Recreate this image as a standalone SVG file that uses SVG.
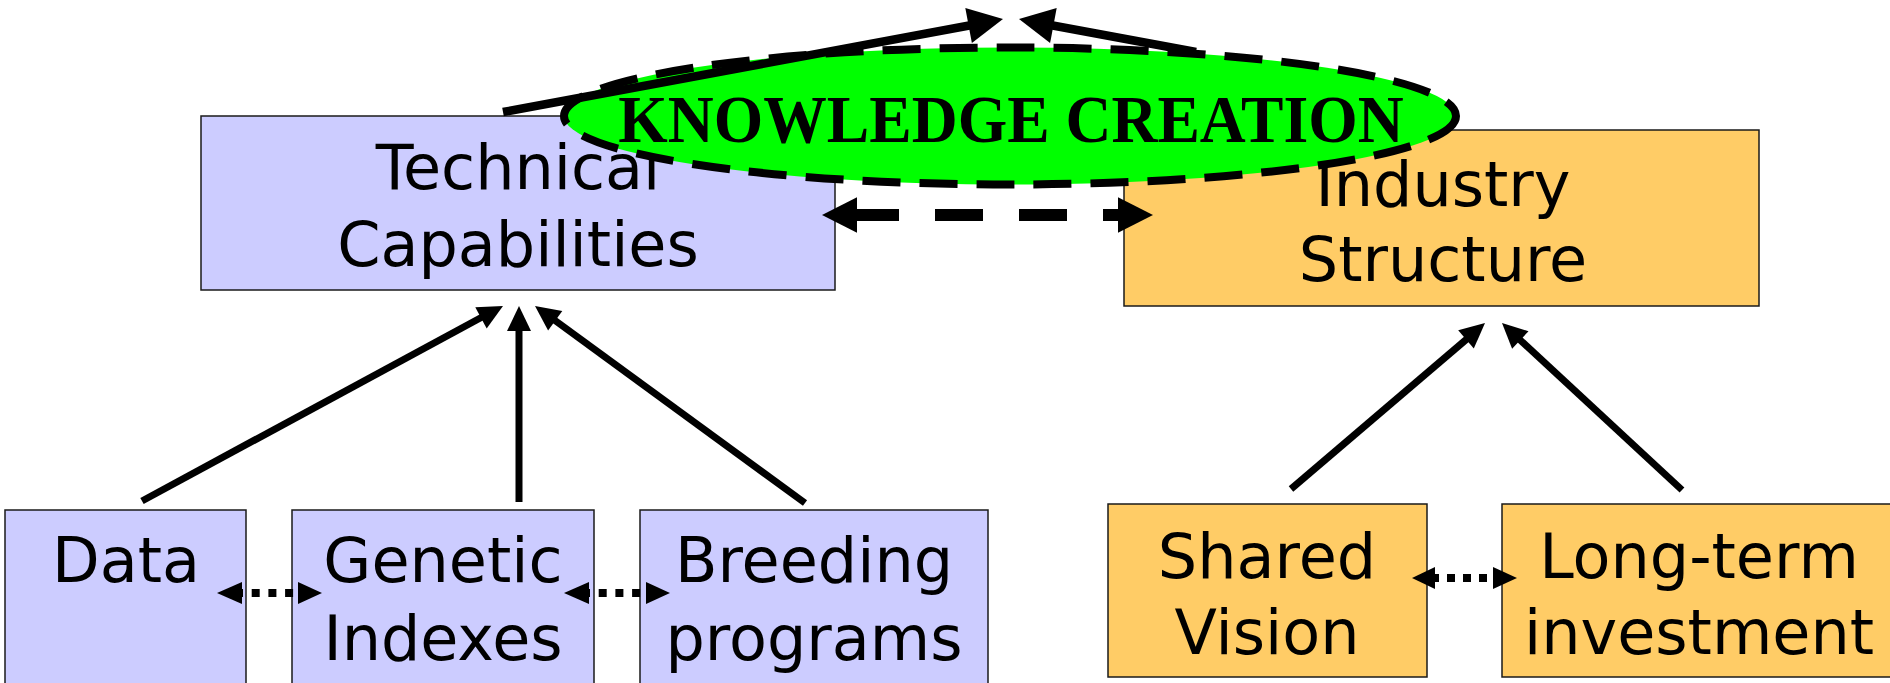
<svg xmlns="http://www.w3.org/2000/svg" width="1890" height="683" viewBox="0 0 1890 683">
<style>
.box{stroke:#1a1a1a;stroke-width:1.5}
.lav{fill:#CCCCFF}
.org{fill:#FFCC66}
.lbl{font-family:"DejaVu Sans","Open Sans",sans-serif;font-size:62px;fill:#000;text-anchor:middle}
.kc{font-family:"Liberation Serif","Times New Roman",serif;font-weight:bold;font-size:67px;fill:#000;text-anchor:middle}
.ln{stroke:#000;stroke-width:7;fill:none}
.tl{stroke:#000;stroke-width:8.5;fill:none}
.dash{stroke:#000;stroke-width:12;fill:none;stroke-dasharray:48 36}
.dot{stroke:#000;stroke-width:8;fill:none}
.hd{fill:#000}
</style>
<rect width="1890" height="683" fill="#fff"/>
<g id="technical">
<rect class="box lav" x="201" y="116" width="634" height="174"/>
<text class="lbl" x="518" y="189">Technical</text>
<text class="lbl" x="518" y="266">Capabilities</text>
</g>
<g id="industry">
<rect class="box org" x="1124" y="130" width="635" height="176"/>
<text class="lbl" x="1443" y="206">Industry</text>
<text class="lbl" x="1443" y="281">Structure</text>
</g>
<g id="data">
<rect class="box lav" x="5" y="510" width="241" height="190"/>
<text class="lbl" x="126" y="582">Data</text>
</g>
<g id="genetic">
<rect class="box lav" x="292" y="510" width="302" height="190"/>
<text class="lbl" x="443" y="582">Genetic</text>
<text class="lbl" x="443" y="660">Indexes</text>
</g>
<g id="breeding">
<rect class="box lav" x="640" y="510" width="348" height="190"/>
<text class="lbl" x="814" y="582">Breeding</text>
<text class="lbl" x="814" y="660">programs</text>
</g>
<g id="shared">
<rect class="box org" x="1108" y="504" width="319" height="173"/>
<text class="lbl" x="1267" y="578">Shared</text>
<text class="lbl" x="1267" y="654">Vision</text>
</g>
<g id="longterm">
<rect class="box org" x="1502" y="504" width="400" height="173"/>
<text class="lbl" x="1699" y="578">Long-term</text>
<text class="lbl" x="1699" y="654">investment</text>
</g>
<g id="knowledge">
<ellipse cx="1010" cy="116" rx="446" ry="68.5" fill="#00FF00" stroke="#000" stroke-width="8" stroke-dasharray="38 19"/>
<text class="kc" transform="translate(1011,142) scale(0.95,1)" x="0" y="0">KNOWLEDGE CREATION</text>
</g>
<g id="connectors">
<line class="tl" x1="503" y1="112" x2="972" y2="25"/>
<polygon class="hd" points="1003,19 971.9,42.9 965.3,7.9"/>
<line class="tl" x1="1196" y1="52" x2="1050" y2="25"/>
<polygon class="hd" points="1019,19 1056.7,7.9 1050.1,42.9"/>
<line class="dash" x1="851" y1="215" x2="1120" y2="215"/>
<polygon class="hd" points="822,215 857,197.3 857,232.7"/>
<polygon class="hd" points="1153,215 1118,197.3 1118,232.7"/>
<line class="ln" x1="142" y1="501" x2="484" y2="316"/>
<polygon class="hd" points="503,306 486.7,328.4 475.3,307.3"/>
<line class="ln" x1="519" y1="502" x2="519" y2="328"/>
<polygon class="hd" points="519,306 507,331 531,331"/>
<line class="ln" x1="805" y1="503" x2="553" y2="319"/>
<polygon class="hd" points="535,306 562.3,311 548.1,330.4"/>
<line class="ln" x1="1291" y1="489" x2="1468" y2="338"/>
<polygon class="hd" points="1485,323 1473.8,348.4 1458.2,330.2"/>
<line class="ln" x1="1682" y1="490" x2="1518" y2="338"/>
<polygon class="hd" points="1502,323 1528.5,331.2 1512.1,348.8"/>
<line class="dot" x1="235" y1="593" x2="298" y2="593" stroke-dasharray="8 8.7"/>
<polygon class="hd" points="217,593 242,582 242,604"/>
<polygon class="hd" points="322,593 298,582 298,604"/>
<line class="dot" x1="582" y1="593" x2="646" y2="593" stroke-dasharray="8 8.7"/>
<polygon class="hd" points="564,593 589,582 589,604"/>
<polygon class="hd" points="670,593 646,582 646,604"/>
<line class="dot" x1="1431" y1="578" x2="1493" y2="578" stroke-dasharray="8 8"/>
<polygon class="hd" points="1412,578 1435,567 1435,589"/>
<polygon class="hd" points="1517,578 1493,567 1493,589"/>
</g>
</svg>
